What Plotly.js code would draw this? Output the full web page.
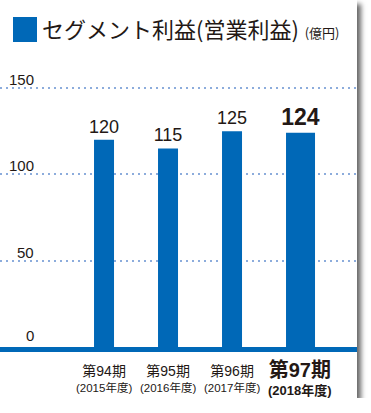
<!DOCTYPE html>
<html>
<head>
<meta charset="utf-8">
<script src="https://cdn.plot.ly/plotly-3.0.1.min.js"></script>
<style>
  html, body { margin: 0; padding: 0; background: #ffffff; }
  #chart { width: 357px; height: 398px; background: #ffffff; box-shadow: 4px 4px 5px rgba(0,0,0,0.6); }
</style>
</head>
<body>
<div id="chart"></div>
<script>
// ---- data ----
const categories = ['第94期', '第95期', '第96期', '第97期'];
const years = ['(2015年度)', '(2016年度)', '(2017年度)', '(2018年度)'];
const values = [120, 115, 125, 124];
const highlight = [false, false, false, true];
const yTickVals = [0, 50, 100, 150];
const yTickText = ['0', '50', '100', '150'];
const titleText = 'セグメント利益(営業利益)';
const unitText = '(億円)';

// ---- styles ----
const BLUE = '#0068b7';
const INK = '#231815';
const NUMF = '"Liberation Sans", "Noto Sans CJK JP", sans-serif';
const CJK = '"Noto Sans CJK JP", sans-serif';

const trace = {
  type: 'bar',
  x: categories,
  y: values,
  width: highlight.map(h => h ? 0.453 : 0.3125),
  offset: highlight.map(() => -0.156),
  marker: { color: BLUE, line: { width: 0 } },
  text: values.map((v, i) => highlight[i] ? '<b>' + v + '</b>' : String(v)),
  textposition: 'outside',
  textfont: { family: NUMF, size: highlight.map(h => h ? 23 : 18), color: INK },
  constraintext: 'none',
  cliponaxis: false,
  hoverinfo: 'none'
};

const annotations = [];
// y tick labels (placed above the grid lines)
yTickVals.forEach((v, i) => {
  annotations.push({
    xref: 'paper', yref: 'y', x: 36 / 357, y: v,
    xanchor: 'right', yanchor: 'bottom', yshift: v === 0 ? 1 : -2,
    text: yTickText[i], showarrow: false,
    font: { family: NUMF, size: 15, color: INK }
  });
});
// category labels (period + fiscal year on two lines)
categories.forEach((c, i) => {
  const hl = highlight[i];
  const txt = hl
    ? '<b><span style="font-size:20px">' + c + '</span><br><span style="font-size:13px">' + years[i] + '</span></b>'
    : '<span style="font-size:14px">' + c + '</span><br><span style="font-size:11.5px">' + years[i] + '</span>';
  annotations.push({
    xref: 'x', yref: 'paper', x: c, y: 0,
    xanchor: 'center', yanchor: 'top',
    xshift: hl ? 4 : 0, yshift: hl ? -10 : -14,
    text: txt, showarrow: false,
    font: { family: NUMF, size: hl ? 14 : 12, color: INK }
  });
});

const layout = {
  width: 357,
  height: 398,
  margin: { l: 0, r: 0, t: 60, b: 51 },
  paper_bgcolor: '#ffffff',
  plot_bgcolor: '#ffffff',
  showlegend: false,
  title: {
    text: titleText + '<span style="font-size:13px">  ' + unitText + '</span>',
    font: { family: CJK, size: 22, color: INK },
    x: 42 / 357, xanchor: 'left', xref: 'container',
    y: 1 - 30 / 398, yanchor: 'middle', yref: 'container'
  },
  xaxis: {
    type: 'category',
    range: [-1.625, 3.953],
    showgrid: false,
    zeroline: false,
    showline: true,
    linecolor: BLUE,
    linewidth: 5,
    showticklabels: false,
    ticks: '',
    fixedrange: true
  },
  yaxis: {
    range: [0, 166.2],
    tickvals: [50, 100, 150],
    showgrid: true,
    gridcolor: '#8cacdc',
    gridwidth: 2,
    griddash: '2px,4px',
    zeroline: false,
    showline: false,
    showticklabels: false,
    ticks: '',
    fixedrange: true
  },
  shapes: [{
    type: 'rect', xref: 'paper', yref: 'paper',
    x0: 13 / 357, x1: 37 / 357, y0: 0, y1: 1,
    fillcolor: BLUE, line: { width: 0 }, layer: 'above'
  }],
  annotations: annotations
};

// title square: convert pixel rows of the card to paper coordinates
(function () {
  const plotH = 398 - 60 - 51;
  const toPaperY = py => (398 - 51 - py) / plotH;
  layout.shapes[0].y0 = toPaperY(42);
  layout.shapes[0].y1 = toPaperY(17);
})();

Plotly.newPlot('chart', [trace], layout, { displayModeBar: false, staticPlot: true });
</script>
</body>
</html>
